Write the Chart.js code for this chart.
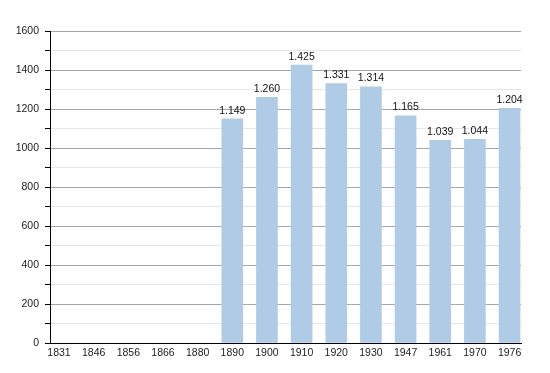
<!DOCTYPE html>
<html>
<head>
<meta charset="utf-8">
<script src="https://cdn.jsdelivr.net/npm/chart.js@4/dist/chart.umd.min.js"></script>
<style>
html,body{margin:0;padding:0;background:#fff;}
#wrap{width:550px;height:373px;position:relative;}
</style>
</head>
<body>
<div id="wrap"><canvas id="c" width="550" height="373"></canvas></div>
<script>
const categories = ["1831","1846","1856","1866","1880","1890","1900","1910","1920","1930","1947","1961","1970","1976"];
const populations = [null,null,null,null,null,1149,1260,1425,1331,1314,1165,1039,1044,1204];
const yTickLabels = [0,200,400,600,800,1000,1200,1400,1600];

const FONT = "'Liberation Sans', Arial, sans-serif";

function fmt(v){
  return String(v).replace(/\B(?=(\d{3})+(?!\d))/g, ".");
}

const labelPlugin = {
  id: 'valueLabels',
  afterDatasetsDraw(chart){
    const ctx = chart.ctx;
    const meta = chart.getDatasetMeta(0);
    ctx.save();
    ctx.font = "10.5px " + FONT;
    ctx.fillStyle = "#111";
    ctx.textAlign = "center";
    ctx.textBaseline = "bottom";
    meta.data.forEach((bar, i) => {
      const v = populations[i];
      if (v == null) return;
      ctx.fillText(fmt(v), bar.x, bar.y - 3);
    });
    ctx.restore();
  }
};

new Chart(document.getElementById('c'), {
  type: 'bar',
  data: {
    datasets: [{
      data: categories.map((c, i) => ({x: i, y: populations[i]})),
      backgroundColor: 'rgb(176,203,230)',
      borderWidth: 0,
      barThickness: 21
    }]
  },
  options: {
    responsive: false,
    animation: false,
    events: [],
    layout: { padding: { left: 0, top: 31, right: 29, bottom: 0 } },
    plugins: { legend: { display: false }, tooltip: { enabled: false } },
    scales: {
      x: {
        type: 'linear',
        offset: false,
        min: -0.26,
        max: 13.33,
        afterBuildTicks(scale){ scale.ticks = categories.map((_, i) => ({value: i})); },
        afterFit(scale){ scale.height = 30; },
        grid: { display: false, drawTicks: false, offset: false },
        border: { display: true, color: '#000', width: 1 },
        ticks: {
          autoSkip: false,
          maxRotation: 0,
          padding: 4,
          color: '#222',
          font: { family: FONT, size: 10.5 },
          callback: (v) => categories[v] !== undefined ? categories[v] : ''
        }
      },
      y: {
        min: 0,
        max: 1600,
        afterFit(scale){ scale.width = 50; },
        ticks: {
          stepSize: 100,
          padding: 6,
          color: '#222',
          font: { family: FONT, size: 10.5 },
          callback: (v) => yTickLabels.includes(v) ? String(v) : ''
        },
        grid: {
          drawTicks: true,
          tickLength: 5,
          color: (ctx) => (ctx.tick && ctx.tick.value % 200 === 0) ? '#a6a6a6' : '#e6e6e6',
          tickColor: '#000',
          lineWidth: 1
        },
        border: { display: true, color: '#000', width: 1 }
      }
    }
  },
  plugins: [labelPlugin]
});
</script>
</body>
</html>
